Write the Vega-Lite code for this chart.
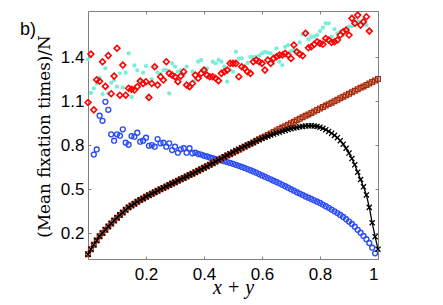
{
  "$schema": "https://vega.github.io/schema/vega-lite/v6.json",
  "width": 290,
  "height": 248,
  "autosize": {"type": "none"},
  "padding": {"left": 88, "top": 11, "right": 65, "bottom": 46},
  "background": "white",
  "title": {"text": "b)", "anchor": "start", "frame": "group", "orient": "top", "dx": -68, "dy": 44, "offset": 0, "baseline": "alphabetic", "font": "Liberation Sans", "fontSize": 18, "fontWeight": "normal", "color": "#000"},
  "config": {
    "view": {"stroke": "#808080", "strokeWidth": 1},
    "axis": {"grid": false, "domain": false, "tickColor": "#808080", "tickSize": -3, "tickWidth": 1, "labelFont": "Liberation Sans", "labelFontSize": 17, "labelColor": "#000", "titleColor": "#000", "titleFontWeight": "normal"}
  },
  "data": {"values": [
    {"x":0.00,"black":0.055,"brown":0.055,"blue":null,"red":1.09,"cyan":1.385},
    {"x":0.01,"black":0.09,"brown":0.09,"blue":null,"red":1.42,"cyan":1.155},
    {"x":0.02,"black":0.12,"brown":0.12,"blue":0.735,"red":1.04,"cyan":1.187},
    {"x":0.03,"black":0.15,"brown":0.15,"blue":0.77,"red":1.245,"cyan":1.22},
    {"x":0.04,"black":0.178,"brown":0.178,"blue":1.0,"red":1.235,"cyan":1.26},
    {"x":0.05,"black":0.20,"brown":0.20,"blue":0.965,"red":1.368,"cyan":1.148},
    {"x":0.06,"black":0.222,"brown":0.222,"blue":1.095,"red":1.20,"cyan":1.323},
    {"x":0.07,"black":0.245,"brown":0.245,"blue":1.04,"red":1.41,"cyan":1.152},
    {"x":0.08,"black":0.265,"brown":0.265,"blue":0.873,"red":1.15,"cyan":1.225},
    {"x":0.09,"black":0.285,"brown":0.285,"blue":0.83,"red":1.27,"cyan":1.243},
    {"x":0.10,"black":0.305,"brown":0.305,"blue":0.873,"red":1.46,"cyan":1.198},
    {"x":0.11,"black":0.323,"brown":0.323,"blue":0.864,"red":1.14,"cyan":1.289},
    {"x":0.12,"black":0.34,"brown":0.34,"blue":0.907,"red":1.345,"cyan":1.193},
    {"x":0.13,"black":0.358,"brown":0.358,"blue":0.816,"red":1.14,"cyan":1.293},
    {"x":0.14,"black":0.375,"brown":0.375,"blue":0.802,"red":1.187,"cyan":1.425},
    {"x":0.15,"black":0.388,"brown":0.388,"blue":0.861,"red":1.18,"cyan":1.128},
    {"x":0.16,"black":0.40,"brown":0.40,"blue":0.857,"red":1.175,"cyan":1.343},
    {"x":0.17,"black":0.413,"brown":0.413,"blue":0.884,"red":1.198,"cyan":1.31},
    {"x":0.18,"black":0.425,"brown":0.425,"blue":0.823,"red":1.236,"cyan":1.232},
    {"x":0.19,"black":0.436,"brown":0.436,"blue":0.83,"red":1.22,"cyan":1.293},
    {"x":0.20,"black":0.447,"brown":0.447,"blue":0.85,"red":1.232,"cyan":1.339},
    {"x":0.21,"black":0.458,"brown":0.458,"blue":0.795,"red":1.125,"cyan":1.13},
    {"x":0.22,"black":0.468,"brown":0.468,"blue":0.80,"red":1.22,"cyan":1.25},
    {"x":0.23,"black":0.478,"brown":0.478,"blue":0.789,"red":1.334,"cyan":1.334},
    {"x":0.24,"black":0.488,"brown":0.488,"blue":0.841,"red":1.209,"cyan":1.293},
    {"x":0.25,"black":0.498,"brown":0.498,"blue":0.812,"red":1.266,"cyan":1.284},
    {"x":0.26,"black":0.508,"brown":0.508,"blue":0.816,"red":1.243,"cyan":1.311},
    {"x":0.27,"black":0.518,"brown":0.518,"blue":0.789,"red":1.368,"cyan":1.311},
    {"x":0.28,"black":0.528,"brown":0.528,"blue":0.812,"red":1.289,"cyan":1.152},
    {"x":0.29,"black":0.537,"brown":0.537,"blue":0.766,"red":1.277,"cyan":1.357},
    {"x":0.30,"black":0.547,"brown":0.547,"blue":0.789,"red":1.266,"cyan":1.334},
    {"x":0.31,"black":0.557,"brown":0.557,"blue":0.748,"red":1.232,"cyan":1.30},
    {"x":0.32,"black":0.566,"brown":0.566,"blue":0.771,"red":1.27,"cyan":1.311},
    {"x":0.33,"black":0.576,"brown":0.576,"blue":0.778,"red":1.30,"cyan":1.28},
    {"x":0.34,"black":0.585,"brown":0.585,"blue":0.748,"red":1.209,"cyan":1.334},
    {"x":0.35,"black":0.595,"brown":0.595,"blue":0.778,"red":1.198,"cyan":1.19},
    {"x":0.36,"black":0.605,"brown":0.605,"blue":0.744,"red":1.22,"cyan":1.30},
    {"x":0.37,"black":0.615,"brown":0.615,"blue":0.748,"red":1.277,"cyan":1.243},
    {"x":0.38,"black":0.625,"brown":0.625,"blue":0.739,"red":1.255,"cyan":1.368},
    {"x":0.39,"black":0.635,"brown":0.635,"blue":0.735,"red":1.289,"cyan":1.38},
    {"x":0.40,"black":0.645,"brown":0.645,"blue":0.727,"red":1.311,"cyan":1.311},
    {"x":0.41,"black":0.655,"brown":0.655,"blue":0.722,"red":1.277,"cyan":1.323},
    {"x":0.42,"black":0.666,"brown":0.666,"blue":0.715,"red":1.266,"cyan":1.277},
    {"x":0.43,"black":0.676,"brown":0.676,"blue":0.71,"red":1.266,"cyan":1.368},
    {"x":0.44,"black":0.687,"brown":0.687,"blue":0.704,"red":1.255,"cyan":1.357},
    {"x":0.45,"black":0.698,"brown":0.698,"blue":0.70,"red":1.239,"cyan":1.38},
    {"x":0.46,"black":0.709,"brown":0.708,"blue":0.695,"red":1.289,"cyan":1.368},
    {"x":0.47,"black":0.72,"brown":0.718,"blue":0.69,"red":1.30,"cyan":1.334},
    {"x":0.48,"black":0.73,"brown":0.728,"blue":0.684,"red":1.311,"cyan":1.232},
    {"x":0.49,"black":0.741,"brown":0.738,"blue":0.678,"red":1.357,"cyan":1.311},
    {"x":0.50,"black":0.752,"brown":0.748,"blue":0.672,"red":1.357,"cyan":1.30},
    {"x":0.51,"black":0.762,"brown":0.758,"blue":0.665,"red":1.357,"cyan":1.436},
    {"x":0.52,"black":0.771,"brown":0.768,"blue":0.658,"red":1.266,"cyan":1.39},
    {"x":0.53,"black":0.781,"brown":0.778,"blue":0.651,"red":1.334,"cyan":1.391},
    {"x":0.54,"black":0.79,"brown":0.788,"blue":0.644,"red":1.323,"cyan":1.334},
    {"x":0.55,"black":0.80,"brown":0.798,"blue":0.636,"red":1.30,"cyan":1.36},
    {"x":0.56,"black":0.809,"brown":0.808,"blue":0.628,"red":1.289,"cyan":1.402},
    {"x":0.57,"black":0.818,"brown":0.818,"blue":0.62,"red":1.368,"cyan":1.40},
    {"x":0.58,"black":0.827,"brown":0.829,"blue":0.611,"red":1.38,"cyan":1.402},
    {"x":0.59,"black":0.836,"brown":0.839,"blue":0.602,"red":1.368,"cyan":1.41},
    {"x":0.60,"black":0.845,"brown":0.849,"blue":0.593,"red":1.357,"cyan":1.425},
    {"x":0.61,"black":0.853,"brown":0.859,"blue":0.584,"red":1.311,"cyan":1.436},
    {"x":0.62,"black":0.86,"brown":0.869,"blue":0.575,"red":1.38,"cyan":1.43},
    {"x":0.63,"black":0.868,"brown":0.879,"blue":0.566,"red":1.357,"cyan":1.425},
    {"x":0.64,"black":0.875,"brown":0.889,"blue":0.557,"red":1.391,"cyan":1.357},
    {"x":0.65,"black":0.882,"brown":0.899,"blue":0.548,"red":1.402,"cyan":1.459},
    {"x":0.66,"black":0.888,"brown":0.909,"blue":0.539,"red":1.414,"cyan":1.368},
    {"x":0.67,"black":0.894,"brown":0.919,"blue":0.529,"red":1.414,"cyan":1.345},
    {"x":0.68,"black":0.90,"brown":0.929,"blue":0.519,"red":1.425,"cyan":1.47},
    {"x":0.69,"black":0.906,"brown":0.939,"blue":0.509,"red":1.414,"cyan":1.482},
    {"x":0.70,"black":0.912,"brown":0.949,"blue":0.499,"red":1.39,"cyan":1.44},
    {"x":0.71,"black":0.916,"brown":0.959,"blue":0.489,"red":1.482,"cyan":1.45},
    {"x":0.72,"black":0.92,"brown":0.969,"blue":0.478,"red":1.436,"cyan":1.436},
    {"x":0.73,"black":0.924,"brown":0.979,"blue":0.469,"red":1.42,"cyan":1.50},
    {"x":0.74,"black":0.927,"brown":0.989,"blue":0.46,"red":1.409,"cyan":1.555},
    {"x":0.75,"black":0.93,"brown":0.999,"blue":0.45,"red":1.562,"cyan":1.562},
    {"x":0.76,"black":0.931,"brown":1.009,"blue":0.441,"red":1.463,"cyan":1.52},
    {"x":0.77,"black":0.932,"brown":1.019,"blue":0.432,"red":1.47,"cyan":1.539},
    {"x":0.78,"black":0.93,"brown":1.029,"blue":0.423,"red":1.487,"cyan":1.539},
    {"x":0.79,"black":0.927,"brown":1.039,"blue":0.414,"red":1.504,"cyan":1.55},
    {"x":0.80,"black":0.922,"brown":1.049,"blue":0.405,"red":1.493,"cyan":1.577},
    {"x":0.81,"black":0.914,"brown":1.059,"blue":0.394,"red":1.487,"cyan":1.60},
    {"x":0.82,"black":0.905,"brown":1.069,"blue":0.383,"red":1.527,"cyan":1.63},
    {"x":0.83,"black":0.893,"brown":1.079,"blue":0.372,"red":1.516,"cyan":1.63},
    {"x":0.84,"black":0.88,"brown":1.089,"blue":0.36,"red":1.50,"cyan":1.539},
    {"x":0.85,"black":0.866,"brown":1.099,"blue":0.348,"red":1.504,"cyan":1.591},
    {"x":0.86,"black":0.85,"brown":1.109,"blue":0.336,"red":1.516,"cyan":1.562},
    {"x":0.87,"black":0.83,"brown":1.119,"blue":0.323,"red":1.55,"cyan":1.573},
    {"x":0.88,"black":0.806,"brown":1.13,"blue":0.31,"red":1.573,"cyan":1.55},
    {"x":0.89,"black":0.778,"brown":1.14,"blue":0.294,"red":1.584,"cyan":1.58},
    {"x":0.90,"black":0.745,"brown":1.15,"blue":0.278,"red":1.55,"cyan":1.607},
    {"x":0.91,"black":0.708,"brown":1.16,"blue":0.262,"red":1.664,"cyan":1.61},
    {"x":0.92,"black":0.665,"brown":1.17,"blue":0.243,"red":1.63,"cyan":1.618},
    {"x":0.93,"black":0.615,"brown":1.18,"blue":0.222,"red":1.686,"cyan":1.645},
    {"x":0.94,"black":0.565,"brown":1.19,"blue":0.202,"red":1.618,"cyan":1.641},
    {"x":0.95,"black":0.515,"brown":1.20,"blue":0.18,"red":1.64,"cyan":1.63},
    {"x":0.96,"black":0.46,"brown":1.21,"blue":0.158,"red":1.675,"cyan":1.618},
    {"x":0.97,"black":0.375,"brown":1.22,"blue":0.132,"red":1.577,"cyan":1.584},
    {"x":0.98,"black":0.27,"brown":1.23,"blue":0.10,"red":null,"cyan":null},
    {"x":0.99,"black":0.175,"brown":1.24,"blue":0.062,"red":null,"cyan":null},
    {"x":1.00,"black":0.09,"brown":1.25,"blue":null,"red":null,"cyan":null}
  ]},
  "resolve": {"axis": {"x": "independent", "y": "independent"}},
  "layer": [
    {
      "mark": {"type": "point", "filled": true, "shape": "circle", "size": 18, "color": "#76eed8", "opacity": 1, "strokeWidth": 0},
      "encoding": {
        "x": {"field": "x", "type": "quantitative", "scale": {"domain": [0, 1], "nice": false, "zero": false},
          "axis": {"orient": "bottom", "values": [0.2, 0.4, 0.6, 0.8, 1], "format": "~g", "labelPadding": 10, "title": "x + y", "titleFont": "Liberation Serif", "titleFontStyle": "italic", "titleFontSize": 20, "titleBaseline": "alphabetic", "titleX": 145, "titleY": 34}},
        "y": {"field": "cyan", "type": "quantitative", "scale": {"domain": [0.023, 1.714], "nice": false, "zero": false},
          "axis": {"orient": "left", "values": [0.2, 0.5, 0.8, 1.1, 1.4], "format": ".1f", "labelPadding": 7, "title": "(Mean fixation times)/N", "titleFont": "DejaVu Serif", "titleFontSize": 16.8, "titleBaseline": "middle", "titleAngle": -90, "titleX": -44, "titleY": 125}}
      }
    },
    {
      "mark": {"type": "point", "filled": false, "shape": "diamond", "size": 34, "color": "#ff0000", "opacity": 1, "strokeWidth": 1.6},
      "encoding": {
        "x": {"field": "x", "type": "quantitative", "axis": {"orient": "top", "values": [0.2, 0.4, 0.6, 0.8, 1], "labels": false, "title": null}},
        "y": {"field": "red", "type": "quantitative", "axis": {"orient": "right", "values": [0.2, 0.5, 0.8, 1.1, 1.4], "labels": false, "title": null}}
      }
    },
    {
      "mark": {"type": "point", "filled": false, "shape": "circle", "size": 24, "color": "#2a4cf2", "opacity": 1, "strokeWidth": 1.4},
      "encoding": {
        "x": {"field": "x", "type": "quantitative", "axis": null},
        "y": {"field": "blue", "type": "quantitative", "axis": null}
      }
    },
    {
      "mark": {"type": "point", "filled": false, "shape": "square", "size": 22, "color": "#a82a0c", "opacity": 1, "strokeWidth": 1.3},
      "encoding": {
        "x": {"field": "x", "type": "quantitative", "axis": null},
        "y": {"field": "brown", "type": "quantitative", "axis": null}
      }
    },
    {
      "mark": {"type": "line", "color": "#000000", "strokeWidth": 1.3},
      "encoding": {
        "x": {"field": "x", "type": "quantitative", "axis": null},
        "y": {"field": "black", "type": "quantitative", "axis": null}
      }
    },
    {
      "mark": {"type": "point", "filled": false, "shape": "M-1,-1L1,1M-1,1L1,-1", "size": 26, "color": "#000000", "opacity": 1, "strokeWidth": 1.3},
      "encoding": {
        "x": {"field": "x", "type": "quantitative", "axis": null},
        "y": {"field": "black", "type": "quantitative", "axis": null}
      }
    }
  ]
}
